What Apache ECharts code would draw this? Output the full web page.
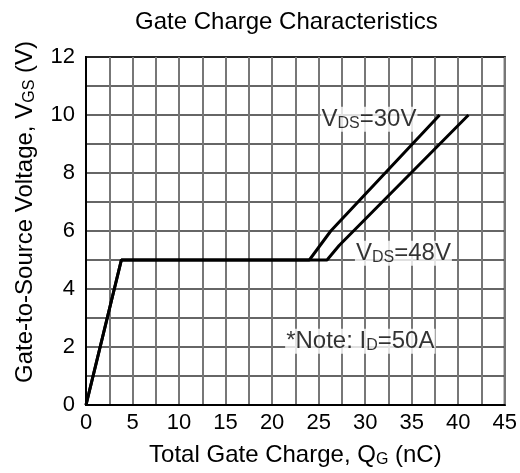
<!DOCTYPE html>
<html>
<head>
<meta charset="utf-8">
<script src="https://cdn.jsdelivr.net/npm/echarts@6/dist/echarts.min.js"></script>
<style>
  html, body { margin: 0; padding: 0; background: #fff; }
  #chart { width: 520px; height: 473px; }
</style>
</head>
<body>
<div id="chart"></div>
<script>
// gate charge curves, [Qg (nC), Vgs (V)]
var vds30 = [[0, 0], [3.8, 5], [24.0, 5], [26.3, 6], [38.0, 10]];
var vds48 = [[0, 0], [3.8, 5], [25.9, 5], [27.2, 5.5], [41.1, 10]];
var xTicks = [0, 5, 10, 15, 20, 25, 30, 35, 40, 45];
var yTicks = [0, 2, 4, 6, 8, 10, 12];

var FONT = '"Liberation Sans", Arial, sans-serif';
var subStyle = { fontSize: 16, fontFamily: FONT, color: '#000', padding: [9, 0, 0, 0] };

// annotation label, anchored at its left-middle
function note(x, y, text) {
    return {
        value: [x, y],
        label: {
            show: true,
            position: 'right',
            distance: 0,
            formatter: text,
            fontSize: 24,
            fontFamily: FONT,
            color: '#000',
            backgroundColor: '#fff',
            padding: [0, 1],
            rich: { s: subStyle }
        }
    };
}

var myChart = echarts.init(document.getElementById('chart'));

var option = {
    animation: false,
    backgroundColor: '#fff',
    title: {
        text: 'Gate Charge Characteristics',
        left: 130,
        top: 5,
        textStyle: { fontSize: 24, fontWeight: 'normal', fontFamily: FONT, color: '#000' }
    },
    grid: {
        left: 86, right: 15, top: 57, bottom: 60,
        show: true, borderColor: '#000', borderWidth: 2
    },
    xAxis: {
        type: 'value',
        min: 0, max: 45, interval: 2.5,
        name: 'Total Gate Charge, Q{s|G} (nC)',
        nameLocation: 'middle',
        nameGap: 38,
        nameTextStyle: { fontSize: 24, fontFamily: FONT, color: '#000', rich: { s: subStyle } },
        axisLine: { lineStyle: { color: '#000', width: 2 } },
        axisTick: { show: false },
        splitLine: { lineStyle: { color: '#777', width: 2 } },
        axisLabel: {
            fontSize: 22, fontFamily: FONT, color: '#000', margin: 7,
            formatter: function (v) { return xTicks.indexOf(v) >= 0 ? String(v) : ''; }
        }
    },
    yAxis: {
        type: 'value',
        min: 0, max: 12, interval: 1,
        axisLine: { lineStyle: { color: '#000', width: 2 } },
        axisTick: { show: false },
        splitLine: { lineStyle: { color: '#333', width: 1.5 } },
        axisLabel: {
            fontSize: 22, fontFamily: FONT, color: '#000', margin: 11,
            formatter: function (v) { return yTicks.indexOf(v) >= 0 ? String(v) : ''; }
        }
    },
    graphic: [{
        type: 'text',
        x: 25, y: 212,
        rotation: Math.PI / 2,
        style: {
            text: 'Gate-to-Source Voltage, V{s|GS} (V)',
            fontSize: 24, fontFamily: FONT, fill: '#000',
            align: 'center', verticalAlign: 'middle',
            rich: { s: subStyle }
        }
    }],
    series: [
        {
            name: 'VDS=30V', type: 'line', data: vds30,
            symbol: 'none', lineStyle: { color: '#000', width: 3 }, z: 3
        },
        {
            name: 'VDS=48V', type: 'line', data: vds48,
            symbol: 'none', lineStyle: { color: '#000', width: 3 }, z: 3
        },
        {
            type: 'scatter', symbolSize: 0, z: 2,
            data: [
                note(25.2, 9.85, 'V{s|DS}=30V'),
                note(28.9, 5.23, 'V{s|DS}=48V'),
                note(21.4, 2.2, '*Note: I{s|D}=50A')
            ]
        }
    ]
};

myChart.setOption(option);
</script>
</body>
</html>
